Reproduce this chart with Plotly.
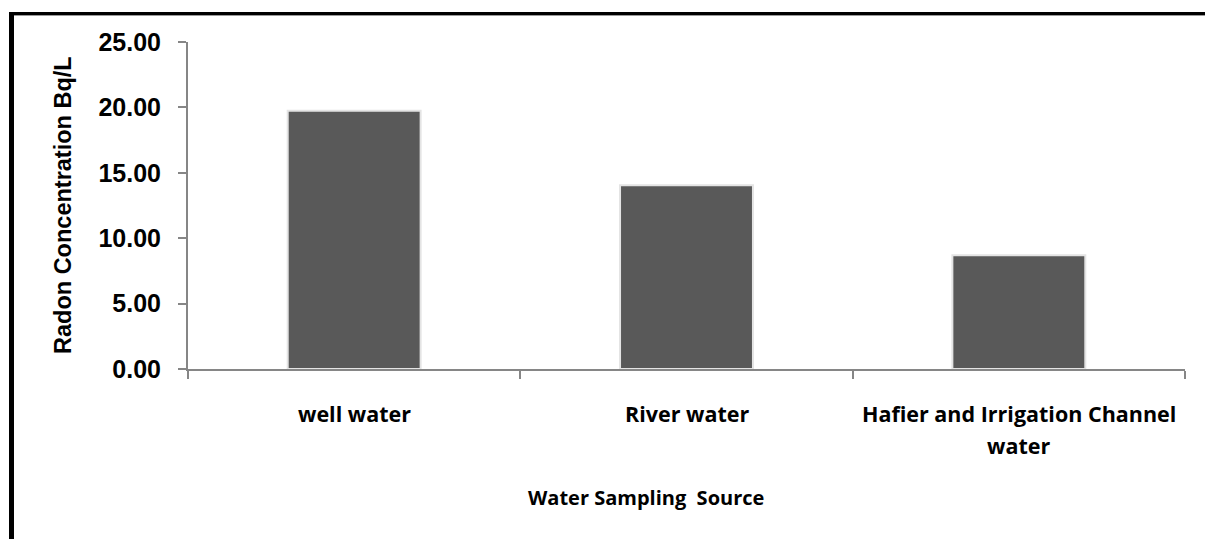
import plotly.graph_objects as go

# Radon concentration by water sampling source
sources = ["well water", "River water", "Hafier and Irrigation Channel\nwater"]
radon_bq_per_l = [19.75, 14.05, 8.70]
y_ticks = [0, 5, 10, 15, 20, 25]

W, H = 1205, 539
L, R, T, B = 188, 20, 42, 170
PW, PH = W - L - R, H - T - B


def px(x):
    return (x - L) / PW


def py(y):
    return (H - B - y) / PH


fig = go.Figure(
    go.Bar(
        x=list(range(len(sources))),
        y=radon_bq_per_l,
        width=0.4,
        marker=dict(color="#595959", line=dict(color="#e4e4e4", width=2)),
        hoverinfo="y",
    )
)

# category labels, one annotation per text line
annotations = []
for i, name in enumerate(sources):
    for j, line in enumerate(name.split("\n")):
        annotations.append(
            dict(
                x=i, xref="x", y=py(413 + 32 * j), yref="paper",
                text=line, showarrow=False, xanchor="center", yanchor="middle",
                font=dict(family="Open Sans", size=21.5, color="#000000", weight="bold"),
            )
        )

annotations.append(
    dict(
        x=px(646), xref="paper", y=py(497), yref="paper",
        text="Water Sampling  Source", showarrow=False,
        xanchor="center", yanchor="middle",
        font=dict(family="Open Sans", size=20, color="#000000", weight="bold"),
    )
)
annotations.append(
    dict(
        x=px(63), xref="paper", y=py(205), yref="paper",
        text="Radon Concentration Bq/L", showarrow=False, textangle=-90,
        xanchor="center", yanchor="middle",
        font=dict(family="Liberation Sans, Arial", size=23.5, color="#000000", weight="bold"),
    )
)

# outer frame: top and left rules
shapes = [
    dict(type="line", xref="paper", yref="paper",
         x0=px(9), x1=px(W + 5), y0=py(13.5), y1=py(13.5),
         line=dict(color="#000000", width=3)),
    dict(type="line", xref="paper", yref="paper",
         x0=px(9), x1=px(W + 5), y0=py(15.5), y1=py(15.5),
         line=dict(color="#9a9a9a", width=1)),
    dict(type="line", xref="paper", yref="paper",
         x0=px(11.5), x1=px(11.5), y0=py(12), y1=py(H + 5),
         line=dict(color="#000000", width=5)),
]

fig.update_layout(
    width=W, height=H,
    margin=dict(l=L, r=R, t=T, b=B, pad=0),
    paper_bgcolor="#ffffff", plot_bgcolor="#ffffff",
    showlegend=False,
    annotations=annotations,
    shapes=shapes,
    xaxis=dict(
        type="linear", range=[-0.5, len(sources) - 0.5],
        tickmode="array",
        tickvals=[i - 0.5 for i in range(len(sources) + 1)],
        ticktext=[""] * (len(sources) + 1),
        ticks="outside", ticklen=8, tickwidth=2, tickcolor="#868686",
        showline=True, linecolor="#868686", linewidth=2,
        showgrid=False, zeroline=False, fixedrange=True,
    ),
    yaxis=dict(
        range=[0, 25], tickmode="array", tickvals=y_ticks,
        tickformat=".2f",
        ticks="outside", ticklen=8, tickwidth=2, tickcolor="#868686",
        ticklabelstandoff=12,
        showline=True, linecolor="#868686", linewidth=2,
        showgrid=False, zeroline=False,
        tickfont=dict(family="Liberation Sans, Arial", size=25, color="#000000", weight="bold"),
    ),
)

fig.write_html("out.html")
